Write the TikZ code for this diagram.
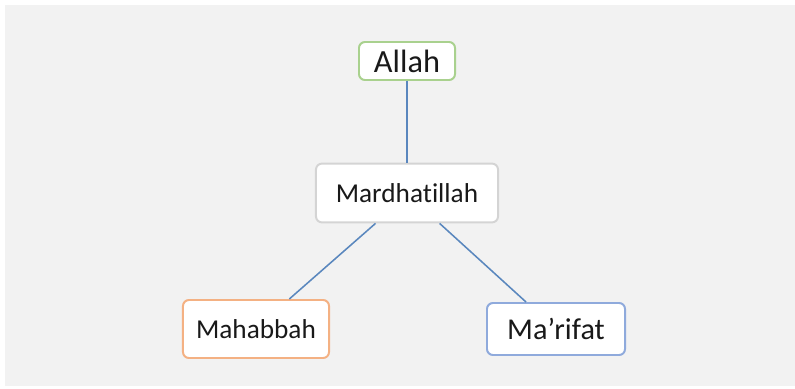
\documentclass[tikz,border=0pt]{standalone}
\usepackage{fontspec}
\setmainfont{Carlito}[Ligatures=NoCommon]
\definecolor{bgrey}{HTML}{F2F2F2}
\definecolor{lgreen}{HTML}{A9D18E}
\definecolor{lorange}{HTML}{F4B183}
\definecolor{lblue}{HTML}{8FAADC}
\definecolor{lgrey}{HTML}{D4D4D4}
\definecolor{linkblue}{HTML}{5A87BE}
\begin{document}
\begin{tikzpicture}[x=0.025cm,y=-0.025cm,
        term/.style={draw,fill=white,rounded corners=0.15cm,line width=1.4pt,inner sep=0pt,text=black!90},
        link/.style={linkblue,line width=1.1pt}]
                \useasboundingbox (0,0) rectangle (795,388);
                \fill[bgrey] (5,5) rectangle (795,386); % background
                
                \node[term,draw=lgreen,minimum width=2.4cm,minimum height=0.95cm,font=\fontsize{23}{27}\selectfont] (allah) at (407,61) {Allah};
                
                \node[term,draw=lgrey,minimum width=4.55cm,minimum height=1.47cm,font=\fontsize{19.4}{23}\selectfont] (mard) at (407,193) {Mardhatillah};
                
                \node[term,draw=lorange,minimum width=3.65cm,minimum height=1.45cm,font=\fontsize{19.4}{23}\selectfont] (mahabbah) at (256,329) {Mahabbah};
                
                \node[term,draw=lblue,minimum width=3.45cm,minimum height=1.3cm,font=\fontsize{21.5}{25}\selectfont] (marifat) at (556,329) {Ma’rifat};
                
                \draw[link] (allah) -- (mard); % top
                
                \draw[link] (mard.224) -- (mahabbah.42); % left
                
                \draw[link] (mard.317) -- (marifat.138); % right
            \end{tikzpicture}
\end{document}
